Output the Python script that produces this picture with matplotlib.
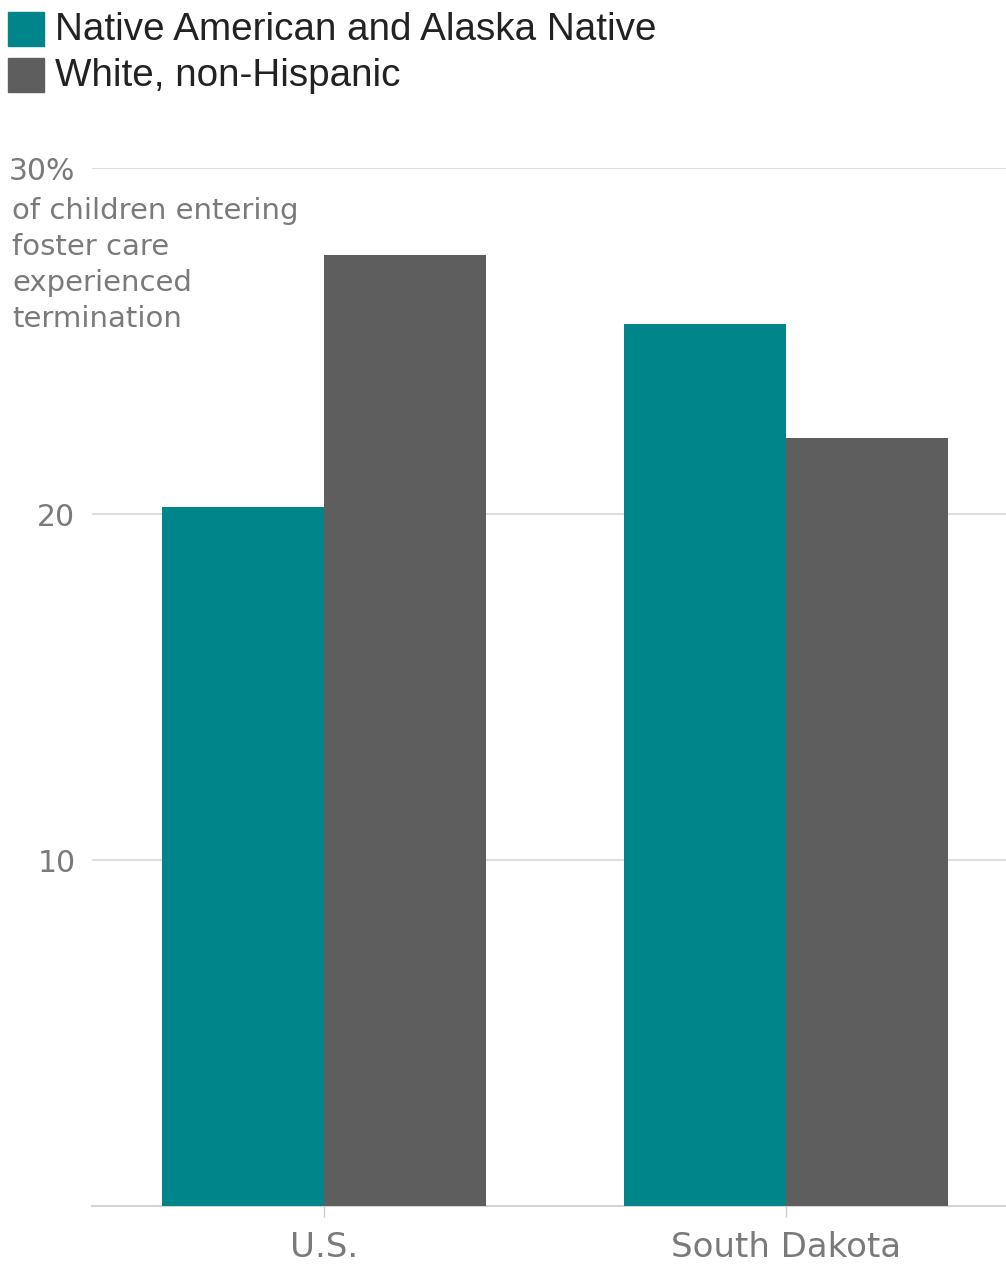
import matplotlib
matplotlib.use('Agg')
import matplotlib.pyplot as plt
from matplotlib.patches import Rectangle
import numpy as np

categories = ['U.S.', 'South Dakota']
native = [20.2, 25.5]
white = [27.5, 22.2]
series_names = ['Native American and Alaska Native', 'White, non-Hispanic']
yticks = [10, 20, 30]
ytick_labels = ['10', '20', '30%']
axis_note = 'of children entering\nfoster care\nexperienced\ntermination'

TEAL = '#00858a'
GRAY = '#5e5e5e'
TXT = '#7a7a7a'
GRID = '#dedede'

W, H = 1006, 1264
fig = plt.figure(figsize=(W / 100, H / 100), dpi=100)
ax = fig.add_axes([92 / W, 1 - 1206 / H, 1 - 92 / W, (1206 - 168) / H])

x = np.arange(len(categories))
bw = 0.35
ax.bar(x - bw / 2, native, bw, color=TEAL, zorder=3)
ax.bar(x + bw / 2, white, bw, color=GRAY, zorder=3)

ax.set_xlim(-0.502, 1.476)
ax.set_ylim(0, 30)
ax.set_yticks(yticks)
ax.set_yticklabels(ytick_labels, fontfamily='DejaVu Sans', fontsize=21.5, color=TXT)
ax.tick_params(axis='y', length=0, pad=12)
ax.grid(axis='y', color=GRID, lw=1.5, zorder=0)
ax.set_xticks(x)
ax.set_xticklabels(categories, fontfamily='DejaVu Sans', fontsize=24.5, color=TXT)
ax.tick_params(axis='x', length=8, width=1, color='#cccccc', pad=10)
for s in ['top', 'right', 'left']:
    ax.spines[s].set_visible(False)
ax.spines['bottom'].set_color('#d4d4d4')
ax.spines['bottom'].set_linewidth(1.5)

fig.text(12 / W, 1 - 197 / H, axis_note, fontfamily='DejaVu Sans', fontsize=21,
         color=TXT, va='top', ha='left', linespacing=1.36)

# legend
for i, (name, c) in enumerate(zip(series_names, [TEAL, GRAY])):
    top = 12 + i * 46
    fig.patches.append(Rectangle((8 / W, 1 - (top + 34) / H), 36 / W, 34 / H,
                                 transform=fig.transFigure, color=c))
    fig.text(55 / W, 1 - (top + 18) / H, name, fontfamily='Liberation Sans', fontsize=27.8,
             color='#222222', va='center', ha='left')

fig.savefig('out.png', dpi=100)
